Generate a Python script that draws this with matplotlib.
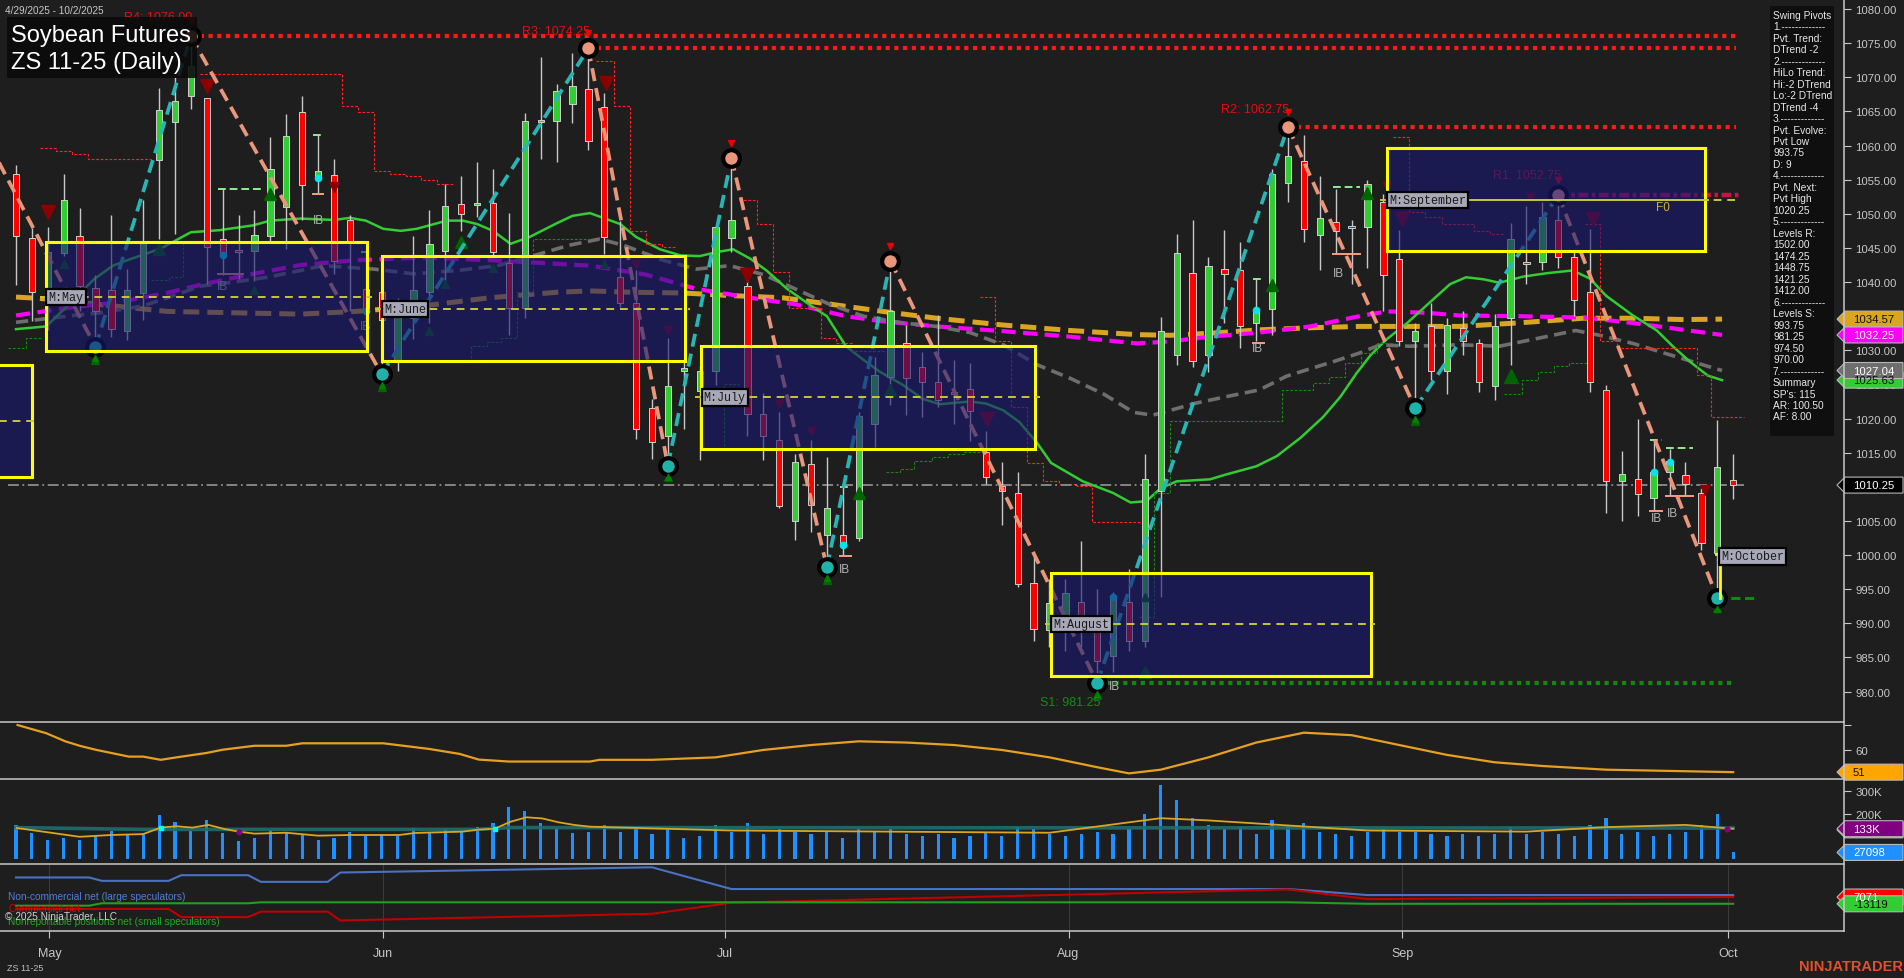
import numpy as np
import matplotlib
matplotlib.use("Agg")
import matplotlib.pyplot as plt
from matplotlib.patches import Rectangle, Polygon
from matplotlib.lines import Line2D
from matplotlib.transforms import IdentityTransform

plt.rcParams['font.family'] = ['Liberation Sans', 'DejaVu Sans']

# ---------------- data ----------------
opens = [1055.9, 1046.5, 1038.4, 1044.2, 1046.7, 1039.2, 1038.9, 1032.9, 1038.4, 1057.9,
         1063.4, 1067.3, 1066.9, 1046.3, 1044.5, 1044.6, 1046.7, 1051.0, 1064.9, 1055.2,
         1055.7, 1049.1, 1039.0, 1038.5, 1028.6, 1034.7, 1038.6, 1044.6, 1051.4, 1051.3,
         1051.6, 1042.8, 1036.2, 1063.5, 1063.6, 1066.1, 1068.3, 1065.6, 1040.7, 1037.0,
         1021.5, 1017.5, 1026.9, 1024.0, 1026.9, 1046.4, 1039.4, 1020.7, 1016.8, 1005.0,
         1013.3, 1003.0, 1003.0, 1002.5, 1019.2, 1026.1, 1031.1, 1027.5, 1025.4, 1023.9,
         1024.4, 1015.1, 1010.1, 1009.1, 995.9, 989.0, 990.6, 993.1, 989.5, 985.2,
         993.1, 987.4, 1009.4, 1029.3, 1041.3, 1029.3, 1041.9, 1041.7, 1034.0, 1036.0,
         1054.5, 1057.7, 1046.9, 1048.8, 1048.0, 1048.1, 1051.8, 1043.4, 1031.3, 1033.5,
         1027.0, 1033.3, 1031.0, 1024.7, 1034.7, 1042.8, 1042.9, 1049.1, 1043.6, 1038.5,
         1024.2, 1010.8, 1011.1, 1008.4, 1012.1, 1011.8, 1009.1, 1000.3, 1011.0]
highs = [1057.1, 1047.9, 1048.0, 1055.9, 1050.8, 1041.0, 1049.8, 1041.9, 1052.0, 1068.5,
         1070.0, 1076.0, 1067.0, 1053.7, 1049.8, 1050.5, 1061.3, 1064.6, 1067.2, 1061.6,
         1058.0, 1049.8, 1044.5, 1038.7, 1037.7, 1046.8, 1050.5, 1054.4, 1055.5, 1057.6,
         1056.6, 1050.1, 1064.8, 1073.0, 1069.0, 1073.5, 1074.25, 1067.7, 1049.0, 1041.7,
         1022.9, 1031.8, 1028.3, 1027.7, 1048.2, 1058.2, 1041.1, 1023.7, 1020.9, 1014.8,
         1016.8, 1014.3, 1010.0, 1021.0, 1029.0, 1043.1, 1033.7, 1029.8, 1035.1, 1028.6,
         1028.1, 1018.2, 1013.6, 1012.1, 999.9, 996.5, 996.5, 1002.1, 995.1, 994.6,
         998.0, 1014.8, 1034.9, 1047.0, 1049.1, 1043.6, 1047.6, 1045.8, 1040.4, 1056.6,
         1062.75, 1061.6, 1055.5, 1053.7, 1049.1, 1054.9, 1052.9, 1047.6, 1034.0, 1037.0,
         1034.7, 1035.7, 1031.6, 1035.3, 1048.7, 1051.2, 1051.8, 1052.75, 1044.4, 1047.8,
         1024.9, 1015.3, 1020.0, 1016.8, 1015.5, 1013.6, 1009.8, 1019.8, 1014.8]
lows = [1039.6, 1034.3, 1033.0, 1043.8, 1035.7, 1030.5, 1032.0, 1031.5, 1034.5, 1046.3,
        1047.1, 1065.3, 1039.7, 1041.1, 1040.4, 1040.1, 1046.0, 1044.8, 1049.1, 1052.9,
        1041.2, 1035.7, 1034.5, 1026.5, 1027.0, 1031.6, 1034.0, 1039.7, 1047.5, 1049.5,
        1043.8, 1032.3, 1034.7, 1058.0, 1057.6, 1063.3, 1059.3, 1044.1, 1036.3, 1017.0,
        1014.1, 1013.1, 1018.5, 1014.0, 1024.9, 1044.4, 1017.5, 1013.9, 1006.9, 1002.2,
        1003.4, 998.2, 1000.0, 1002.0, 1015.8, 1022.0, 1020.5, 1020.2, 1021.7, 1019.2,
        1016.7, 1010.4, 1004.4, 995.3, 987.4, 986.5, 985.9, 986.5, 981.25, 982.8,
        985.9, 986.5, 993.9, 1027.8, 1027.6, 1026.8, 1034.0, 1030.4, 1031.3, 1032.2,
        1051.8, 1045.9, 1041.7, 1044.1, 1039.7, 1042.0, 1035.7, 1030.6, 1021.5, 1025.6,
        1023.6, 1029.3, 1023.9, 1022.7, 1027.9, 1039.7, 1041.7, 1042.1, 1035.0, 1023.9,
        1006.2, 1005.0, 1005.7, 1006.4, 1008.7, 1008.6, 1000.7, 993.75, 1008.2]
closes = [1046.7, 1038.5, 1044.4, 1052.0, 1039.4, 1035.7, 1033.1, 1038.9, 1045.8, 1065.2,
          1066.5, 1071.6, 1045.2, 1044.0, 1044.4, 1046.9, 1056.5, 1061.4, 1054.2, 1056.2,
          1043.1, 1045.8, 1036.0, 1034.5, 1035.0, 1038.9, 1045.6, 1051.2, 1050.0, 1051.6,
          1044.4, 1036.2, 1063.6, 1063.8, 1068.0, 1068.7, 1060.6, 1046.6, 1037.0, 1018.5,
          1016.5, 1024.7, 1027.4, 1027.0, 1048.0, 1049.1, 1020.7, 1017.5, 1007.2, 1013.7,
          1007.4, 1006.9, 1001.3, 1020.4, 1026.4, 1035.7, 1026.0, 1025.4, 1022.7, 1023.6,
          1021.1, 1011.4, 1009.4, 995.7, 989.2, 993.0, 994.5, 990.6, 984.5, 993.8,
          987.4, 1011.2, 1032.8, 1044.2, 1028.5, 1042.4, 1041.2, 1033.5, 1035.7, 1055.9,
          1058.4, 1047.7, 1049.4, 1047.5, 1047.9, 1054.4, 1041.1, 1031.3, 1032.8, 1027.0,
          1033.7, 1031.3, 1025.4, 1033.5, 1046.3, 1042.7, 1049.6, 1043.7, 1037.4, 1025.4,
          1010.9, 1011.9, 1009.0, 1012.1, 1013.8, 1010.4, 1001.7, 1012.9, 1010.25]

volume_k = [150, 114, 83, 92, 83, 100, 123, 105, 114, 194, 163, 123, 172, 114, 78, 92, 127, 114,
            105, 83, 92, 118, 100, 109, 100, 136, 118, 132, 118, 141, 158, 230, 212, 158, 132,
            114, 118,
            150, 120, 140, 110, 130, 90, 100, 150, 120, 160, 110, 130, 120, 110, 120, 90, 130,
            120, 130, 110, 100, 110, 90, 100, 120, 100, 140, 130, 110, 100, 110, 120, 110, 130,
            200, 330, 260, 180, 150, 130, 140, 110, 170, 150, 160, 120, 110, 100, 120, 130, 120,
            120, 110, 100, 110, 100, 110, 140, 110, 120, 110, 100, 150, 180, 110, 120, 100, 110,
            120, 150, 200, 27.098]

month_names = ['May', 'Jun', 'Jul', 'Aug', 'Sep', 'Oct']
month_pos = [2.1, 23.1, 44.6, 66.2, 87.2, 107.7]

# moving averages (bar, price)
ma_green_x = [0, 1.9, 3.2, 4.9, 6.1, 7.0, 9.1, 11.0, 12.8, 14.9, 16.0, 17.9, 20, 21, 22, 23.1, 24.2,
              25.2, 27.1, 28.1, 29, 30, 31.1, 32.3, 34, 35, 36.1, 38, 39, 40.5, 41.8, 43, 44.1, 45.1,
              46.2, 47.2, 48.5, 49.9, 51, 52.2, 53.3, 54.3, 55.8, 57, 58.1, 60, 61, 62.1, 63.1, 64.2,
              65.1, 67.1, 69, 70.1, 71.1, 72, 73, 75.1, 76.1, 78, 79.3, 80.8, 82.2, 83.3, 84.3, 85.2,
              86.2, 87.5, 89.1, 90.2, 91.2, 92.3, 93.3, 94.8, 96.3, 97.9, 99, 100, 101.7, 103.2,
              104.2, 105.3, 106.4, 107.3]
ma_green_y = [1033.1, 1033.5, 1036.4, 1040.4, 1042.4, 1043.2, 1044.9, 1047.3, 1047.6, 1048.3, 1049.0,
              1049.3, 1049.1, 1049.4, 1049.0, 1047.8, 1047.5, 1047.8, 1049.0, 1049.0, 1048.5, 1047.5,
              1045.6, 1046.6, 1048.6, 1049.7, 1050.1, 1048.5, 1046.6, 1044.8, 1043.9, 1043.8, 1044.4,
              1044.8, 1043.4, 1041.7, 1039.0, 1036.7, 1035.0, 1030.6, 1028.6, 1026.9, 1024.9, 1022.9,
              1022.1, 1022.5, 1022.2, 1021.2, 1019.5, 1016.5, 1013.5, 1010.8, 1009.1, 1007.7, 1007.9,
              1009.8, 1010.8, 1011.1, 1011.8, 1013.0, 1014.5, 1017.2, 1020.2, 1023.2, 1026.6, 1029.3,
              1031.6, 1034.0, 1037.4, 1039.7, 1040.7, 1040.4, 1039.9, 1040.8, 1041.3, 1041.7, 1040.5,
              1038.0, 1035.1, 1032.9, 1030.6, 1028.3, 1026.3, 1025.63]
ma_gray_x = [0, 3.2, 5.3, 8, 9.9, 11.6, 13.7, 15.8, 17.9, 19.3, 22.5, 25, 27.8, 30.3, 32.9, 34.8, 36.7,
             38.2, 40.7, 42.8, 44.9, 47, 49.1, 51.2, 53.3, 55.8, 57.9, 60, 62.1, 64.2, 66.3, 68.4, 70.3,
             71.5, 72.6, 74.1, 76.1, 78.2, 79.9, 81.4, 82.8, 84.5, 85.8, 87.6, 90.8, 93.3, 95.4, 98.1,
             99.6, 101.7, 103.8, 106.9, 107.3]
ma_gray_y = [1034.1, 1035.0, 1035.5, 1036.5, 1038.0, 1039.4, 1040.0, 1040.7, 1041.7, 1042.4, 1041.9,
             1041.2, 1041.7, 1042.4, 1044.1, 1045.4, 1046.3, 1045.4, 1043.2, 1041.9, 1042.4, 1041.1,
             1038.9, 1036.7, 1035.0, 1034.0, 1033.5, 1032.6, 1030.8, 1027.9, 1025.9, 1023.6, 1020.9,
             1020.5, 1021.2, 1022.2, 1023.2, 1024.2, 1026.2, 1027.3, 1028.3, 1029.6, 1030.8, 1030.6,
             1030.8, 1030.6, 1031.6, 1032.9, 1032.2, 1031.0, 1029.5, 1027.3, 1027.04]
ma_magenta_x = [0, 3.2, 6.3, 9.5, 11.6, 14.7, 17.9, 21.4, 25.6, 29.8, 33, 36.1, 39.6, 42.8, 45.9, 49.1,
                52.2, 54.3, 57.9, 62.1, 66.3, 70.5, 72.6, 75.1, 78.2, 81.4, 84.5, 86.2, 88.7, 90.8,
                94.4, 98.6, 101.7, 104.9, 107.3]
ma_magenta_y = [1035.1, 1036.2, 1037.0, 1038.4, 1039.6, 1041.1, 1042.5, 1043.2, 1043.6, 1043.2, 1042.8,
                1042.4, 1041.1, 1039.0, 1037.8, 1036.7, 1035.0, 1034.3, 1033.5, 1032.8, 1032.0, 1031.0,
                1031.3, 1032.0, 1032.6, 1033.5, 1035.0, 1035.7, 1035.5, 1035.1, 1035.0, 1034.8, 1034.0,
                1033.0, 1032.25]
ma_gold_x = [0, 1.5, 5.3, 9.5, 13.7, 17.9, 21.4, 25.6, 29.8, 34, 36.1, 38.8, 41.9, 45.1, 48.2, 51.4,
             54.5, 57.9, 62.1, 66.3, 70.5, 72.6, 75.1, 78.2, 81.4, 84.5, 90.8, 94.4, 98.6, 101.7, 104.9,
             107.3]
ma_gold_y = [1037.8, 1037.6, 1036.7, 1035.7, 1035.5, 1035.3, 1035.7, 1036.5, 1037.7, 1038.5, 1038.7,
             1038.5, 1038.4, 1038.0, 1037.7, 1036.7, 1035.7, 1034.7, 1033.7, 1032.9, 1032.3, 1032.2,
             1032.5, 1033.0, 1033.3, 1033.5, 1033.5, 1034.0, 1034.7, 1034.7, 1034.5, 1034.57]

# swing pivots (zigzag)
pivot_bar = [-3, 5, 11, 23, 36, 41, 45, 51, 55, 68, 80, 88, 97, 107]
pivot_price = [1066.1, 1030.5, 1076.0, 1026.5, 1074.25, 1013.1, 1058.2, 998.2, 1043.1, 981.25,
               1062.75, 1021.5, 1052.75, 993.75]

# resistance levels: (name, price, start bar, label right edge bar)
levels = [('R4', 1076.00, 11, 11.1), ('R3', 1074.25, 36, 36.1), ('R2', 1062.75, 80, 80.1)]

# monthly range boxes
box_x0 = [-5, 1.9, 23.0, 43.1, 65.1, 86.2]
box_x1 = [1.0, 22.1, 42.1, 64.1, 85.2, 106.2]
box_top = [1027.8, 1045.8, 1043.8, 1030.6, 997.3, 1059.6]
box_bot = [1011.4, 1029.9, 1028.4, 1015.6, 982.3, 1044.6]
box_mid = [1019.7, 1037.8, 1036.0, 1023.1, 989.9, 1052.05]
box_label = [None, 'M:May', 'M:June', 'M:July', 'M:August', 'M:September']

# trailing stop steps
red_stops = [
    [(1.5, 1059.7), (2.5, 1059.2), (3.5, 1058.7), (4.5, 1058.0), (8.5, 1058.0)],
    [(11.6, 1070.5), (20.5, 1065.8), (21.5, 1064.9), (22.5, 1056.3), (23.5, 1055.9), (24.5, 1055.5),
     (25.5, 1054.9), (26.5, 1054.4), (27.5, 1054.4)],
    [(36.5, 1072.4), (37.6, 1065.8), (38.6, 1047.5), (39.6, 1045.6), (40.6, 1045.1), (41.5, 1045.1)],
    [(45.5, 1052.0), (46.6, 1048.5), (47.6, 1041.4), (48.6, 1036.2), (50.6, 1031.8), (51.6, 1031.1),
     (52.6, 1029.9), (54.6, 1029.9)],
    [(60.6, 1037.8), (61.6, 1031.3), (62.6, 1021.7), (63.6, 1013.5), (64.6, 1010.9), (65.6, 1010.4),
     (66.7, 1010.1), (67.7, 1004.8), (70.7, 1004.8)],
    [(86.6, 1061.3), (87.6, 1050.2), (88.6, 1049.5), (89.7, 1048.5), (91.7, 1047.5), (92.7, 1047.0),
     (93.6, 1047.0)],
    [(98.7, 1048.5), (99.6, 1031.3), (100.7, 1030.4), (105.7, 1026.4), (106.6, 1020.2), (108.7, 1020.2)],
]
green_stops = [
    [(-0.5, 1030.4), (0.6, 1031.8), (1.6, 1031.8)],
    [(8.5, 1040.3), (9.6, 1040.7), (10.5, 1045.8), (10.6, 1045.8)],
    [(27.5, 1028.3), (28.6, 1030.6), (29.6, 1031.2), (30.5, 1031.8), (31.5, 1038.5), (32.5, 1046.3),
     (36.1, 1046.3)],
    [(43.6, 1015.5), (44.5, 1025.0), (45.5, 1025.0)],
    [(54.7, 1012.2), (55.6, 1012.6), (56.5, 1013.8), (57.6, 1014.3), (58.6, 1014.8), (59.6, 1015.1),
     (60.6, 1015.1)],
    [(70.6, 990.9), (71.6, 1009.1), (72.6, 1019.7), (79.6, 1024.2), (81.6, 1025.2), (82.6, 1026.1),
     (83.6, 1028.1), (84.6, 1029.6), (85.6, 1031.1), (86.6, 1031.1)],
    [(93.6, 1023.6), (94.7, 1025.7), (95.7, 1026.8), (96.7, 1027.7), (97.7, 1028.1), (98.8, 1028.1)],
]

# signal markers
down_tri = [(2.0, 1050.2, 10), (12, 1068.7, 10), (20, 1053.9, 7), (37.1, 1069.1, 10), (39, 1042.7, 6),
            (41, 1033.0, 6), (46, 1041.1, 10), (48, 1022.1, 6), (50, 1018.2, 6), (61.1, 1019.9, 10),
            (86.2, 1054.0, 6), (87.2, 1049.3, 10), (95.2, 1052.4, 6), (99.2, 1049.3, 10), (106.2, 1009.5, 7)]
up_tri = [(3, 1042.7, 6), (5, 1028.6, 6), (9, 1044.8, 9), (15, 1038.9, 6), (16, 1052.9, 9), (23, 1024.6, 6),
          (26, 1032.9, 6), (27, 1039.7, 6), (28, 1045.9, 9), (30, 1042.1, 6), (37, 1042.7, 6),
          (41, 1011.4, 6), (51, 996.3, 6), (53, 1009.1, 9), (55, 1024.2, 9), (68, 979.5, 6),
          (71, 993.9, 6), (71, 982.8, 9), (79, 1039.6, 9), (85, 1053.0, 9), (88, 1019.6, 6),
          (94, 1026.3, 10), (107, 992.2, 6)]
ib_text = [(13, 1039.4), (19, 1049.1), (22, 1033.5), (52.1, 998.0), (69.1, 980.8), (78.1, 1030.3),
           (83.2, 1041.3), (103.2, 1005.5), (104.2, 1006.2)]
cyan_dots = [(13, 1043.9), (19, 1055.2), (22, 1035.7), (52, 1001.5), (69, 993.8), (78, 1035.9),
             (103, 1012.1), (104, 1013.6)]
ib_high = [(12.7, 15.4, 1053.6), (18.7, 19.3, 1061.5), (21.7, 22.4, 1044.4), (51.8, 52.5, 1009.9),
           (77.8, 78.5, 1040.4), (82.8, 84.5, 1053.9), (102.8, 103.5, 1016.8), (103.8, 105.5, 1015.7)]
ib_low = [(12.7, 14.3, 1041.2), (18.7, 19.3, 1052.9), (51.8, 52.5, 999.9), (77.8, 78.5, 1031.1),
          (82.8, 84.5, 1044.1), (102.8, 103.5, 1006.5), (103.8, 105.5, 1008.6)]

# oscillator panel (bar, value)
osc_x = [0.1, 1.9, 3.1, 4.0, 5.0, 7.1, 8.0, 9.1, 10.1, 12.0, 13.0, 15.0, 17.0, 18.0, 23.1, 26.0, 27.9,
         29.1, 31.0, 36.1, 36.7, 40, 44, 47, 50, 53, 56, 59, 62, 65, 68, 70, 72, 75, 78, 81, 84, 87,
         90, 93, 96, 100, 104, 108]
osc_y = [70.1, 66.8, 63.5, 61.7, 60.1, 57.3, 57.3, 56.0, 57.0, 58.8, 60.1, 61.7, 61.7, 62.7, 62.7, 60.4,
         58.4, 56.1, 55.3, 55.3, 56.0, 56.0, 57.0, 60.0, 62.0, 63.5, 63.0, 62.0, 60.0, 57.0, 53.0,
         50.5, 52.0, 57.0, 63.0, 67.0, 66.0, 62.0, 58.0, 55.0, 53.5, 52.0, 51.5, 51.0]

# volume average lines (bar, K)
vma_x = [0.05, 2.0, 4.0, 6.0, 8.0, 9.1, 10.1, 11.1, 12.1, 13.1, 14.0, 15.0, 17.0, 19.0, 21.1, 24.1,
         25.1, 28.1, 29.1, 30.1, 31.1, 32.1, 33.1, 34.1, 35.1, 36.1, 45, 55, 65, 72, 75, 85, 95, 100,
         105, 108]
vma_y = [136, 117, 97, 105, 109, 138, 144, 138, 150, 132, 120, 111, 115, 102, 105, 105, 114, 120, 129,
         133, 164, 184, 179, 162, 150, 142, 125, 120, 115, 180, 170, 125, 120, 140, 150, 133]
vavg_x = [0, 8, 29, 31, 108]
vavg_y = [138, 130, 130, 138, 136]

# COT net positions (bar, contracts)
cot_x = [0, 4.6, 5.4, 9.6, 10.4, 14.6, 15.4, 19.6, 20.4, 40, 45, 80, 85, 108]
cot_noncomm = [65600, 65600, 55500, 55500, 72400, 72400, 52500, 52500, 80400, 96000, 31000, 31000,
               13000, 13000]
cot_comm = [-28500, -28500, -28500, -28500, -53000, -53000, -36600, -36600, -63000, -43000, -10000,
            30000, 1000, 7071]
cot_small = [-18800, -18800, -11600, -11600, -11600, -11600, -8700, -8700, -8700, -8700, -8700,
             -8700, -13119, -13119]

# ---------------- figure ----------------
W, H = 1904, 979
BG = '#1e1e1e'
fig = plt.figure(figsize=(W / 100, H / 100), dpi=100)
fig.patch.set_facecolor(BG)


def fbox(top, bottom):
    return [0, 1 - bottom / H, 1844 / W, (bottom - top) / H]


ax = fig.add_axes(fbox(0, 722.6))
ax2 = fig.add_axes(fbox(722.6, 780.3))
ax3 = fig.add_axes(fbox(780.3, 865.2))
ax4 = fig.add_axes(fbox(865.2, 931.7))

xlim = (-1.006, 114.97)
for a in (ax, ax2, ax3, ax4):
    a.set_facecolor(BG)
    a.set_xlim(*xlim)
    for s in a.spines.values():
        s.set_visible(False)
    a.yaxis.tick_right()
    a.tick_params(axis='y', colors='#c8c8c8', labelsize=8.2, length=5, width=0.8, pad=3)
    a.tick_params(axis='x', bottom=False, labelbottom=False)

ax.set_ylim(975.60, 1081.47)
ax.set_yticks(np.arange(980, 1081, 5))
ax.set_yticklabels(['%.2f' % v for v in np.arange(980, 1081, 5)])

n = len(closes)
bars = np.arange(n)

# moving averages
ax.plot(ma_gold_x, ma_gold_y, color='#daa520', lw=3.6, dashes=(3.2, 1.6), zorder=2)
ax.plot(ma_magenta_x, ma_magenta_y, color='#ff00ff', lw=3.0, dashes=(3.4, 1.8), zorder=2)
ax.plot(ma_gray_x, ma_gray_y, color='#6e6e6e', lw=2.6, dashes=(3.4, 1.8), zorder=2)
ax.plot(ma_green_x, ma_green_y, color='#32cd32', lw=1.8, zorder=2)

# trailing stops
for grp in red_stops:
    ax.plot([p[0] for p in grp], [p[1] for p in grp], drawstyle='steps-post', color='#ff2020', lw=0.8,
            dashes=(2.5, 1.5), zorder=2)
for grp in green_stops:
    ax.plot([p[0] for p in grp], [p[1] for p in grp], drawstyle='steps-post', color='#138a13', lw=0.8,
            dashes=(2.5, 1.5), zorder=2)

# candles
for i in bars:
    o, h, l, c = opens[i], highs[i], lows[i], closes[i]
    col = '#32cd32' if c >= o else '#ff0000'
    ax.vlines(i, l, h, color='#c8c8c8', lw=1.0, zorder=3)
    ax.bar(i, max(abs(c - o), 0.25), bottom=min(o, c), width=0.4, color=col, edgecolor='#d0d0d0',
           linewidth=0.7, zorder=3.1)

# last price line
ax.plot([-0.5, 108.7], [closes[-1], closes[-1]], color='#8c8c8c', lw=1.3, dashes=(6, 2, 1, 2), zorder=2.5)

# levels
for name, p, b0, bl in levels:
    ax.plot([b0, 108.2], [p, p], color='#ff1a1a', lw=3.0, dashes=(1, 1.1), zorder=3.5)
    ax.text(bl, p + (2.9 if name == 'R4' else 2.6), '%s: %.2f' % (name, p), color='#e01010',
            fontsize=9, ha='right', va='center', zorder=7)
ax.plot([97, 108.5], [1052.75, 1052.75], color='#cc1144', lw=3.2, dashes=(2.2, 0.8, 0.8, 0.8), zorder=3.5)
ax.text(97.2, 1055.7, 'R1: 1052.75', color='#c8103c', fontsize=9, ha='right', va='center', zorder=4)
ax.plot([68, 108.0], [981.25, 981.25], color='#0e8a0e', lw=3.0, dashes=(1, 1.1), zorder=3.5)
ax.text(68.2, 978.4, 'S1: 981.25', color='#148c14', fontsize=9, ha='right', va='center', zorder=7)
ax.plot([107, 109.3], [993.75, 993.75], color='#0e8a0e', lw=2.2, dashes=(3, 1.5), zorder=3.5)

# inside-bar range marks
for x0, x1, p in ib_high:
    ax.plot([x0, x1], [p, p], color='#90ee90', lw=1.4, dashes=(4, 2), zorder=3.2)
for x0, x1, p in ib_low:
    ax.plot([x0, x1], [p, p], color='#f4a080', lw=1.4, zorder=3.2)

# zigzag
for k in range(len(pivot_bar) - 1):
    up = pivot_price[k + 1] > pivot_price[k]
    ax.plot(pivot_bar[k:k + 2], pivot_price[k:k + 2], color='#2ab5b5' if up else '#e9967a', lw=2.7,
            dashes=(3.5, 1.9), zorder=4)

for b, p, s in down_tri:
    ax.plot(b, p, marker='v', ms=s, color='#8b0000', ls='none', zorder=3.6)
for b, p, s in up_tri:
    ax.plot(b, p, marker='^', ms=s, color='#006400', ls='none', zorder=3.6)
for b, p in cyan_dots:
    ax.plot(b, p, marker='o', ms=4.5, color='#00e5ee', ls='none', zorder=3.6)
for b, p in ib_text:
    ax.text(b, p, 'IB', color='#b4b4b4', fontsize=8.5, ha='center', va='center', zorder=3.6)
ax.text(103.6, 1051.0, 'F0', color='#c8b432', fontsize=8.5, ha='center', va='center', zorder=7)

# pivot circles
for k in range(1, len(pivot_bar)):
    b, p = pivot_bar[k], pivot_price[k]
    is_high = pivot_price[k] > pivot_price[k - 1]
    ax.plot(b, p, marker='o', ms=12, mfc='#e9967a' if is_high else '#20b2aa', mec='black', mew=3,
            ls='none', zorder=4.5)
    if is_high:
        ax.plot(b, p + 2.2, marker='v', ms=4.5, color='#ee0000', ls='none', zorder=4.5)
    else:
        ax.plot(b, p - 1.6, marker='^', ms=4.5, color='#008000', ls='none', zorder=4.5)

# monthly boxes
for k in range(len(box_x0)):
    x0, x1, t, b = box_x0[k], box_x1[k], box_top[k], box_bot[k]
    ax.add_patch(Rectangle((x0, b), x1 - x0, t - b, facecolor='#191970', alpha=0.62, edgecolor='none',
                           zorder=5))
    ax.add_patch(Rectangle((x0, b), x1 - x0, t - b, facecolor='none', edgecolor='#ffff00', lw=2.2,
                           zorder=6))
    ax.plot([x0 - 0.4, x1 + 0.3], [box_mid[k], box_mid[k]], color='#c8c832', lw=1.4, dashes=(4, 3),
            zorder=6)
    if box_label[k]:
        ax.text(x0 + 0.15, box_mid[k], box_label[k], family='Liberation Mono', fontsize=8.5, color='#1a1a1a',
                ha='left', va='center', zorder=8,
                bbox=dict(boxstyle='square,pad=0.18', fc='#a8a8b8', ec='black', lw=1.6))
ax.plot([86.2, 108.4], [box_mid[-1], box_mid[-1]], color='#c8c832', lw=1.4, dashes=(4, 3), zorder=6)
ax.plot([106.9, 107.2, 107.2], [1000.1, 1000.1, 993.75], color='#ffff00', lw=2.0, zorder=6)
ax.text(107.25, 999.8, 'M:October', family='Liberation Mono', fontsize=8.5, color='#1a1a1a', ha='left',
        va='center', zorder=8, clip_on=False, bbox=dict(boxstyle='square,pad=0.18', fc='#a8a8b8', ec='black', lw=1.6))

# oscillator panel
ax2.set_ylim(48.1, 71.5)
ax2.set_yticks([60, 70])
ax2.set_yticklabels(['60', ''])
ax2.plot(osc_x, osc_y, color='#e8a020', lw=1.6)

# volume panel
ax3.set_ylim(-25.4, 353.6)
ax3.set_yticks([200, 300])
ax3.set_yticklabels(['200K', '300K'])
ax3.bar(bars, volume_k, width=0.2, color='#1e90ff')
ax3.plot(vavg_x, vavg_y, color='#1f6f6f', lw=2.6, alpha=0.9)
ax3.plot(vma_x, vma_y, color='#daa520', lw=1.3)
ax3.plot([9.1, 30.1], [138, 133], marker='s', ms=3.5, color='#00ffff', ls='none')
ax3.plot([14.0, 107.6], [120, 133], marker='o', ms=3.5, color='#800080', ls='none')

# COT panel
ax4.set_ylim(-93600, 105300)
ax4.set_yticks([])
for mp in month_pos:
    ax4.axvline(mp, color='#3a3a3a', lw=0.8, zorder=0)
ax4.plot(cot_x, cot_noncomm, color='#4a72c4', lw=1.5)
ax4.plot(cot_x, cot_comm, color='#c00000', lw=1.5)
ax4.plot(cot_x, cot_small, color='#1fa01f', lw=1.5)
ax4.set_xticks(month_pos)
ax4.set_xticklabels(month_names)
ax4.tick_params(axis='x', bottom=True, labelbottom=True, colors='#c8c8c8', labelsize=9, length=5, pad=7)

# ---------------- figure furniture (pixel coordinates) ----------------
ID = IdentityTransform()


def px(x, y):
    return x / W, 1 - y / H


for yy in (722.6, 780.3, 865.2, 931.7):
    fig.add_artist(Line2D([0, 1844 / W], [1 - yy / H] * 2, color='#c8c8c8', lw=1.1))
fig.add_artist(Line2D([1844 / W] * 2, [1 - 931.7 / H, 1], color='#c8c8c8', lw=1.1))


def tag(axx, val, text, fc, tc):
    yd = axx.transData.transform((0, val))[1]
    pts = [(1837, yd), (1845, yd + 8), (1903, yd + 8), (1903, yd - 8), (1845, yd - 8)]
    fig.add_artist(Polygon(pts, closed=True, transform=ID, facecolor=fc, edgecolor='#b8b8b8', lw=0.8))
    fig.text(1853 / W, yd / H, text, color=tc, fontsize=8.2, ha='left', va='center')


tag(ax, 1025.63, '1025.63', '#32cd32', '#101010')
tag(ax, 1027.04, '1027.04', '#6e6e6e', '#ffffff')
tag(ax, 1034.57, '1034.57', '#daa520', '#101010')
tag(ax, 1032.25, '1032.25', '#ff00ff', '#ffffff')
tag(ax, 1010.25, '1010.25', '#000000', '#ffffff')
tag(ax2, 51, '51', '#ffa500', '#101010')
tag(ax3, 128, '', '#daa520', '#101010')
tag(ax3, 133, '133K', '#800080', '#ffffff')
tag(ax3, 27.098, '27098', '#1e90ff', '#ffffff')
tag(ax4, 7071, '7071', '#ff0000', '#ffffff')
tag(ax4, -13119, '-13119', '#32cd32', '#101010')

# title block
fig.add_artist(Rectangle(px(7, 79), 190 / W, 61 / H, transform=fig.transFigure, facecolor='#0a0a0a',
                         alpha=0.88, edgecolor='none'))
fig.text(*px(11, 36), 'Soybean Futures', color='white', fontsize=17, va='center', ha='left')
fig.text(*px(11, 63), 'ZS 11-25 (Daily)', color='white', fontsize=17, va='center', ha='left')
fig.text(*px(5, 11), '4/29/2025 - 10/2/2025', color='#c8c8c8', fontsize=7.2, va='center', ha='left')

# swing pivot info panel
info_lines = ['Swing Pivots', '1.-------------', 'Pvt. Trend:', 'DTrend -2', '2.-------------',
              'HiLo Trend:', 'Hi:-2 DTrend', 'Lo:-2 DTrend', 'DTrend -4', '3.-------------',
              'Pvt. Evolve:', 'Pvt Low', '993.75', 'D: 9', '4.-------------', 'Pvt. Next:', 'Pvt High',
              '1020.25', '5.-------------', 'Levels R:', '1502.00', '1474.25', '1448.75', '1421.25',
              '1412.00', '6.-------------', 'Levels S:', '993.75', '981.25', '974.50', '970.00',
              '7.-------------', 'Summary', "SP's: 115", 'AR: 100.50', 'AF: 8.00']
fig.add_artist(Rectangle(px(1770, 437), 64 / W, 430 / H, transform=fig.transFigure, facecolor='#0f0f0f',
                         edgecolor='none'))
for k, s in enumerate(info_lines):
    fig.text(*px(1773, 15.7 + 11.48 * k), s, color='#e8e8e8', fontsize=7.3, va='center', ha='left')

# COT legend and credits
fig.text(*px(8, 897), 'Non-commercial net (large speculators)', color='#4f7fd8', fontsize=7.3, va='center')
fig.text(*px(9, 909), 'Commercial net', color='#e00000', fontsize=7.3, va='center')
fig.text(*px(8, 922), 'Nonreportable positions net (small speculators)', color='#22aa22', fontsize=7.3,
         va='center')
fig.text(*px(5, 917), '\u00a9 2025 NinjaTrader, LLC', color='#d0d0d0', fontsize=7.3, va='center')
fig.text(*px(7, 969), 'ZS 11-25', color='#c0c0c0', fontsize=6.5, va='center')
fig.text(*px(1903, 967), 'NINJATRADER', color='#e0522b', fontsize=10.5, fontweight='bold', va='center',
         ha='right')

fig.savefig('out.png', dpi=100, facecolor=BG)
